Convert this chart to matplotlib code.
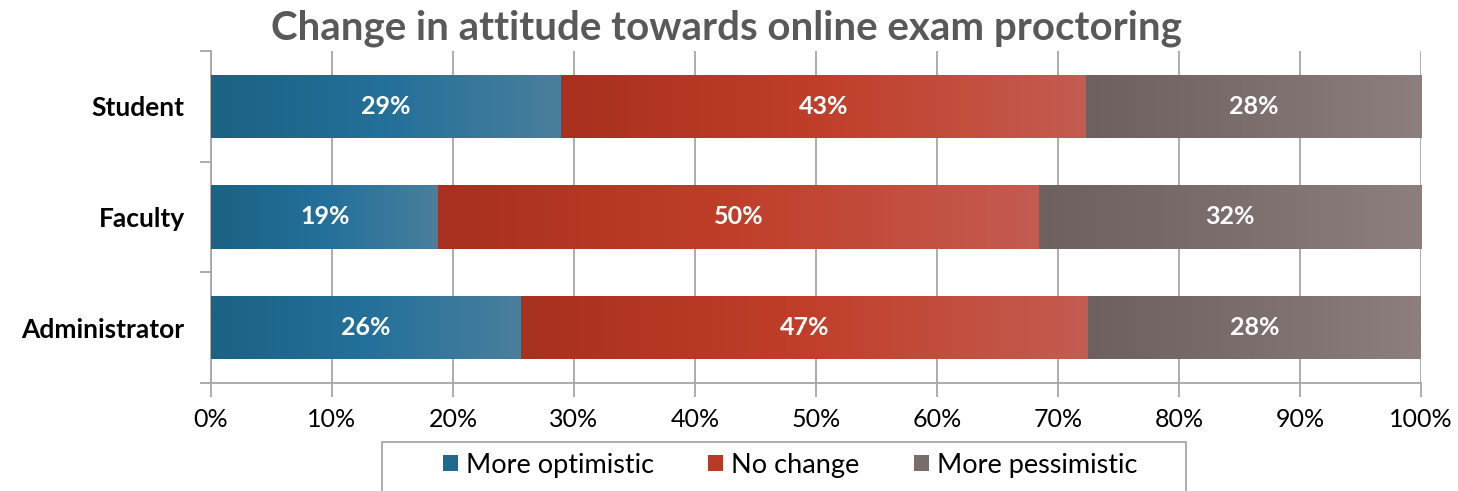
import matplotlib
matplotlib.use('Agg')
import matplotlib.pyplot as plt
from matplotlib.colors import LinearSegmentedColormap
from matplotlib.patches import Rectangle
from matplotlib.ticker import PercentFormatter
import numpy as np

plt.rcParams['font.family'] = ['Lato', 'DejaVu Sans']

groups = ['Student', 'Faculty', 'Administrator']
series = ['More optimistic', 'No change', 'More pessimistic']
optimistic = [28.9, 18.8, 25.6]
no_change = [43.4, 49.6, 46.9]
pessimistic = [27.7, 31.6, 27.5]

# left -> right shading of each series
shades = {
    'More optimistic': ['#1b6283', '#23709a', '#4a7f9c'],
    'No change': ['#a8301e', '#c03f2a', '#c45c51'],
    'More pessimistic': ['#6d605f', '#7c6e6d', '#8c7f7e'],
}
solid = {'More optimistic': '#1f6a8e', 'No change': '#b83a26', 'More pessimistic': '#7a6c6b'}
gray = '#a6a6a6'

fig = plt.figure(figsize=(14.58, 4.91), dpi=100)
ax = fig.add_axes([211 / 1458, 108 / 491, 1210 / 1458, 332 / 491])

y = np.arange(len(groups))[::-1]
height = 0.57
grad = np.linspace(0, 1, 256).reshape(1, -1)

left = np.zeros(len(groups))
handles = []
for name, vals in zip(series, [optimistic, no_change, pessimistic]):
    bars = ax.barh(y, vals, height, left=left, color=solid[name], label=name,
                   edgecolor='none', zorder=2)
    cmap = LinearSegmentedColormap.from_list(name, shades[name])
    for rect, v in zip(bars, vals):
        x0, y0 = rect.get_x(), rect.get_y()
        w, h = rect.get_width(), rect.get_height()
        im = ax.imshow(grad, cmap=cmap, aspect='auto', zorder=3,
                       extent=(x0, x0 + w, y0, y0 + h), interpolation='bilinear')
        im.set_clip_path(rect)
        ax.text(x0 + w / 2, y0 + h / 2, f'{v:.0f}%', color='white', fontsize=18,
                fontweight='bold', ha='center', va='center', zorder=4)
    handles.append(bars)
    left += np.array(vals)

ax.set_xlim(0, 100)
ax.set_ylim(-0.5, len(groups) - 0.5)
ax.set_xticks(np.arange(0, 101, 10))
ax.xaxis.set_major_formatter(PercentFormatter(decimals=0))
ax.set_yticks(y)
ax.set_yticklabels(groups, fontsize=19, fontweight='bold')
ax.set_yticks(np.arange(-0.5, len(groups), 1), minor=True)
ax.tick_params(axis='y', which='major', length=0, pad=19)
ax.tick_params(axis='y', which='minor', length=8, color=gray, width=1.3)
ax.tick_params(axis='x', length=10, color=gray, width=1.3, labelsize=18, pad=8)

ax.grid(axis='x', color=gray, linewidth=1.3, zorder=0)
ax.set_axisbelow(True)
for side in ['top', 'right']:
    ax.spines[side].set_visible(False)
for side in ['left', 'bottom']:
    ax.spines[side].set_color(gray)
    ax.spines[side].set_linewidth(1.3)

fig.suptitle('Change in attitude towards online exam proctoring', x=0.498, y=0.98,
             fontsize=29, fontweight='bold', color='#595959')

# legend box runs off the bottom edge
fig.patches.append(Rectangle((382 / 1458, -0.1), (1186 - 382) / 1458, 0.1 + 49 / 491,
                             transform=fig.transFigure, facecolor='none',
                             edgecolor=gray, linewidth=1.3))
leg = fig.legend(handles, series, loc='center', ncol=3, frameon=False,
                 bbox_to_anchor=(790 / 1458, 26 / 491),
                 fontsize=19.5, handlelength=0.55, handleheight=0.55, handletextpad=0.3,
                 columnspacing=2.0)

fig.savefig('out.png', dpi=100)
